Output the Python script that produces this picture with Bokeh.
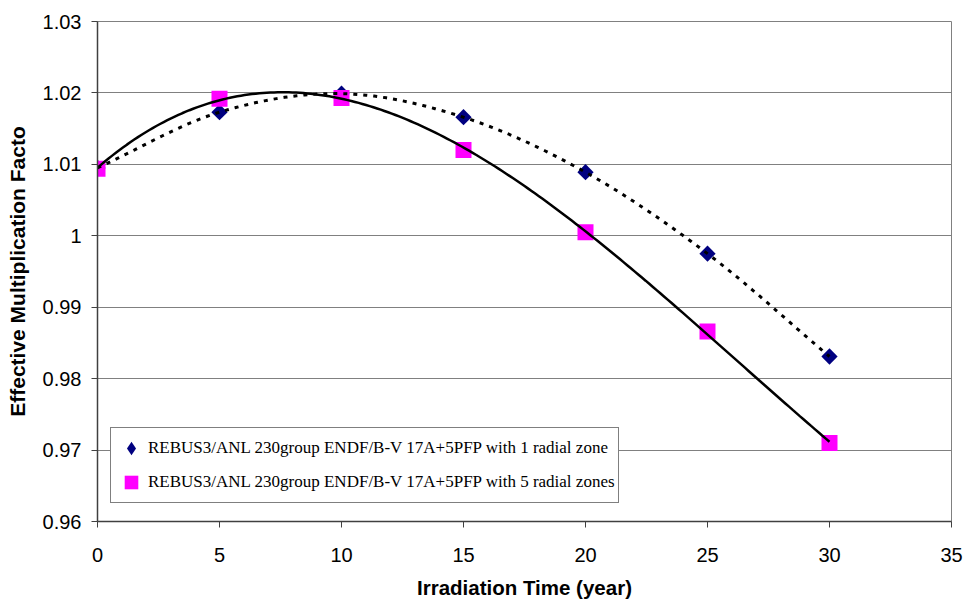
import numpy as np
from bokeh.plotting import figure
from bokeh.models import FixedTicker, CustomJSTickFormatter, Legend, LegendItem
from bokeh.embed import file_html
from bokeh.resources import INLINE

# ---- data ----
years = [0, 5, 10, 15, 20, 25, 30]
keff_1zone = [1.0095, 1.0173, 1.0199, 1.0166, 1.0089, 0.9975, 0.9831]
keff_5zone = [1.0094, 1.0192, 1.0193, 1.0120, 1.0005, 0.9866, 0.9710]
x_ticks = [0, 5, 10, 15, 20, 25, 30, 35]
y_ticks = [0.96, 0.97, 0.98, 0.99, 1.00, 1.01, 1.02, 1.03]
label_1 = "REBUS3/ANL 230group ENDF/B-V 17A+5PFP with 1 radial zone"
label_5 = "REBUS3/ANL 230group ENDF/B-V 17A+5PFP with 5 radial zones"
x_title = "Irradiation Time (year)"
y_title = "Effective Multiplication Facto"


def smooth_curve(xs, ys, n=30):
    """Catmull-Rom spline through the data points (smoothed line)."""
    x = np.asarray(xs, float)
    y = np.asarray(ys, float)
    px = np.concatenate([[2 * x[0] - x[1]], x, [2 * x[-1] - x[-2]]])
    py = np.concatenate([[2 * y[0] - y[1]], y, [2 * y[-1] - y[-2]]])
    ox, oy = [], []
    t = np.linspace(0, 1, n, endpoint=False)
    for i in range(1, len(px) - 2):
        for P, out in ((px, ox), (py, oy)):
            p0, p1, p2, p3 = P[i - 1], P[i], P[i + 1], P[i + 2]
            v = 0.5 * ((2 * p1) + (-p0 + p2) * t + (2 * p0 - 5 * p1 + 4 * p2 - p3) * t ** 2
                       + (-p0 + 3 * p1 - 3 * p2 + p3) * t ** 3)
            out.extend(v.tolist())
    ox.append(float(x[-1]))
    oy.append(float(y[-1]))
    return ox, oy


dot_x, dot_y = smooth_curve(years, keff_1zone)
coef = np.polyfit(years, keff_5zone, 3)
fit_x = np.linspace(years[0], years[-1], 200)
fit_y = np.polyval(coef, fit_x)

p = figure(width=964, height=601, x_range=(0, 35), y_range=(0.96, 1.03),
           output_backend="svg", toolbar_location=None,
           min_border_left=97, min_border_right=13, min_border_top=21, min_border_bottom=80)
p.background_fill_color = "white"
p.border_fill_color = "white"
p.outline_line_color = "#808080"
p.outline_line_width = 1

# markers
p.scatter(years, keff_1zone, marker="square", angle=np.pi / 4, size=11.5,
          fill_color="#000080", line_color=None)
r_sq = p.scatter(years, keff_5zone, marker="square", size=16,
                 fill_color="#FF00FF", line_color=None)
# trend lines
p.line(dot_x, dot_y, line_color="black", line_width=3, line_dash="4 6")
p.line(fit_x, fit_y, line_color="black", line_width=2.5)

# legend-only glyph for the diamond
r_leg1 = p.scatter(years, keff_1zone, marker="diamond", fill_color="#000080",
                   line_color=None, visible=False)

legend = Legend(items=[LegendItem(label=label_1, renderers=[r_leg1]),
                       LegendItem(label=label_5, renderers=[r_sq])],
                location=(13, 18), glyph_width=34, glyph_height=34, padding=3,
                spacing=0, label_standoff=-6, margin=0,
                label_text_font="Liberation Serif", label_text_font_size="17px",
                label_text_color="black",
                border_line_color="black", border_line_width=1,
                background_fill_color="white", background_fill_alpha=1)
p.add_layout(legend)

# grid
p.xgrid.visible = False
p.ygrid.grid_line_color = "#808080"
p.ygrid.grid_line_width = 1
p.ygrid.ticker = FixedTicker(ticks=y_ticks)

# axes
p.xaxis.ticker = FixedTicker(ticks=x_ticks)
p.yaxis.ticker = FixedTicker(ticks=y_ticks)
p.yaxis.formatter = CustomJSTickFormatter(code="return Number(tick.toFixed(2)).toString();")
for ax in (p.xaxis[0], p.yaxis[0]):
    ax.axis_line_color = "#404040"
    ax.axis_line_width = 1.5
    ax.major_tick_line_color = "#404040"
    ax.major_tick_out = 6
    ax.major_tick_in = 0
    ax.minor_tick_line_color = None
    ax.major_label_text_font = "Liberation Sans"
    ax.major_label_text_font_size = "20px"
    ax.major_label_text_color = "black"
    ax.axis_label_text_font = "Liberation Sans"
    ax.axis_label_text_font_style = "bold"
    ax.axis_label_text_color = "black"
p.xaxis.axis_label_text_font_size = "20.5px"
p.yaxis.axis_label_text_font_size = "21px"
p.xaxis.axis_label = x_title
p.yaxis.axis_label = y_title
p.xaxis.major_label_standoff = 20
p.yaxis.major_label_standoff = 10
p.xaxis.axis_label_standoff = 11
p.yaxis.axis_label_standoff = 11

open("out.html", "w").write(file_html(p, INLINE))
